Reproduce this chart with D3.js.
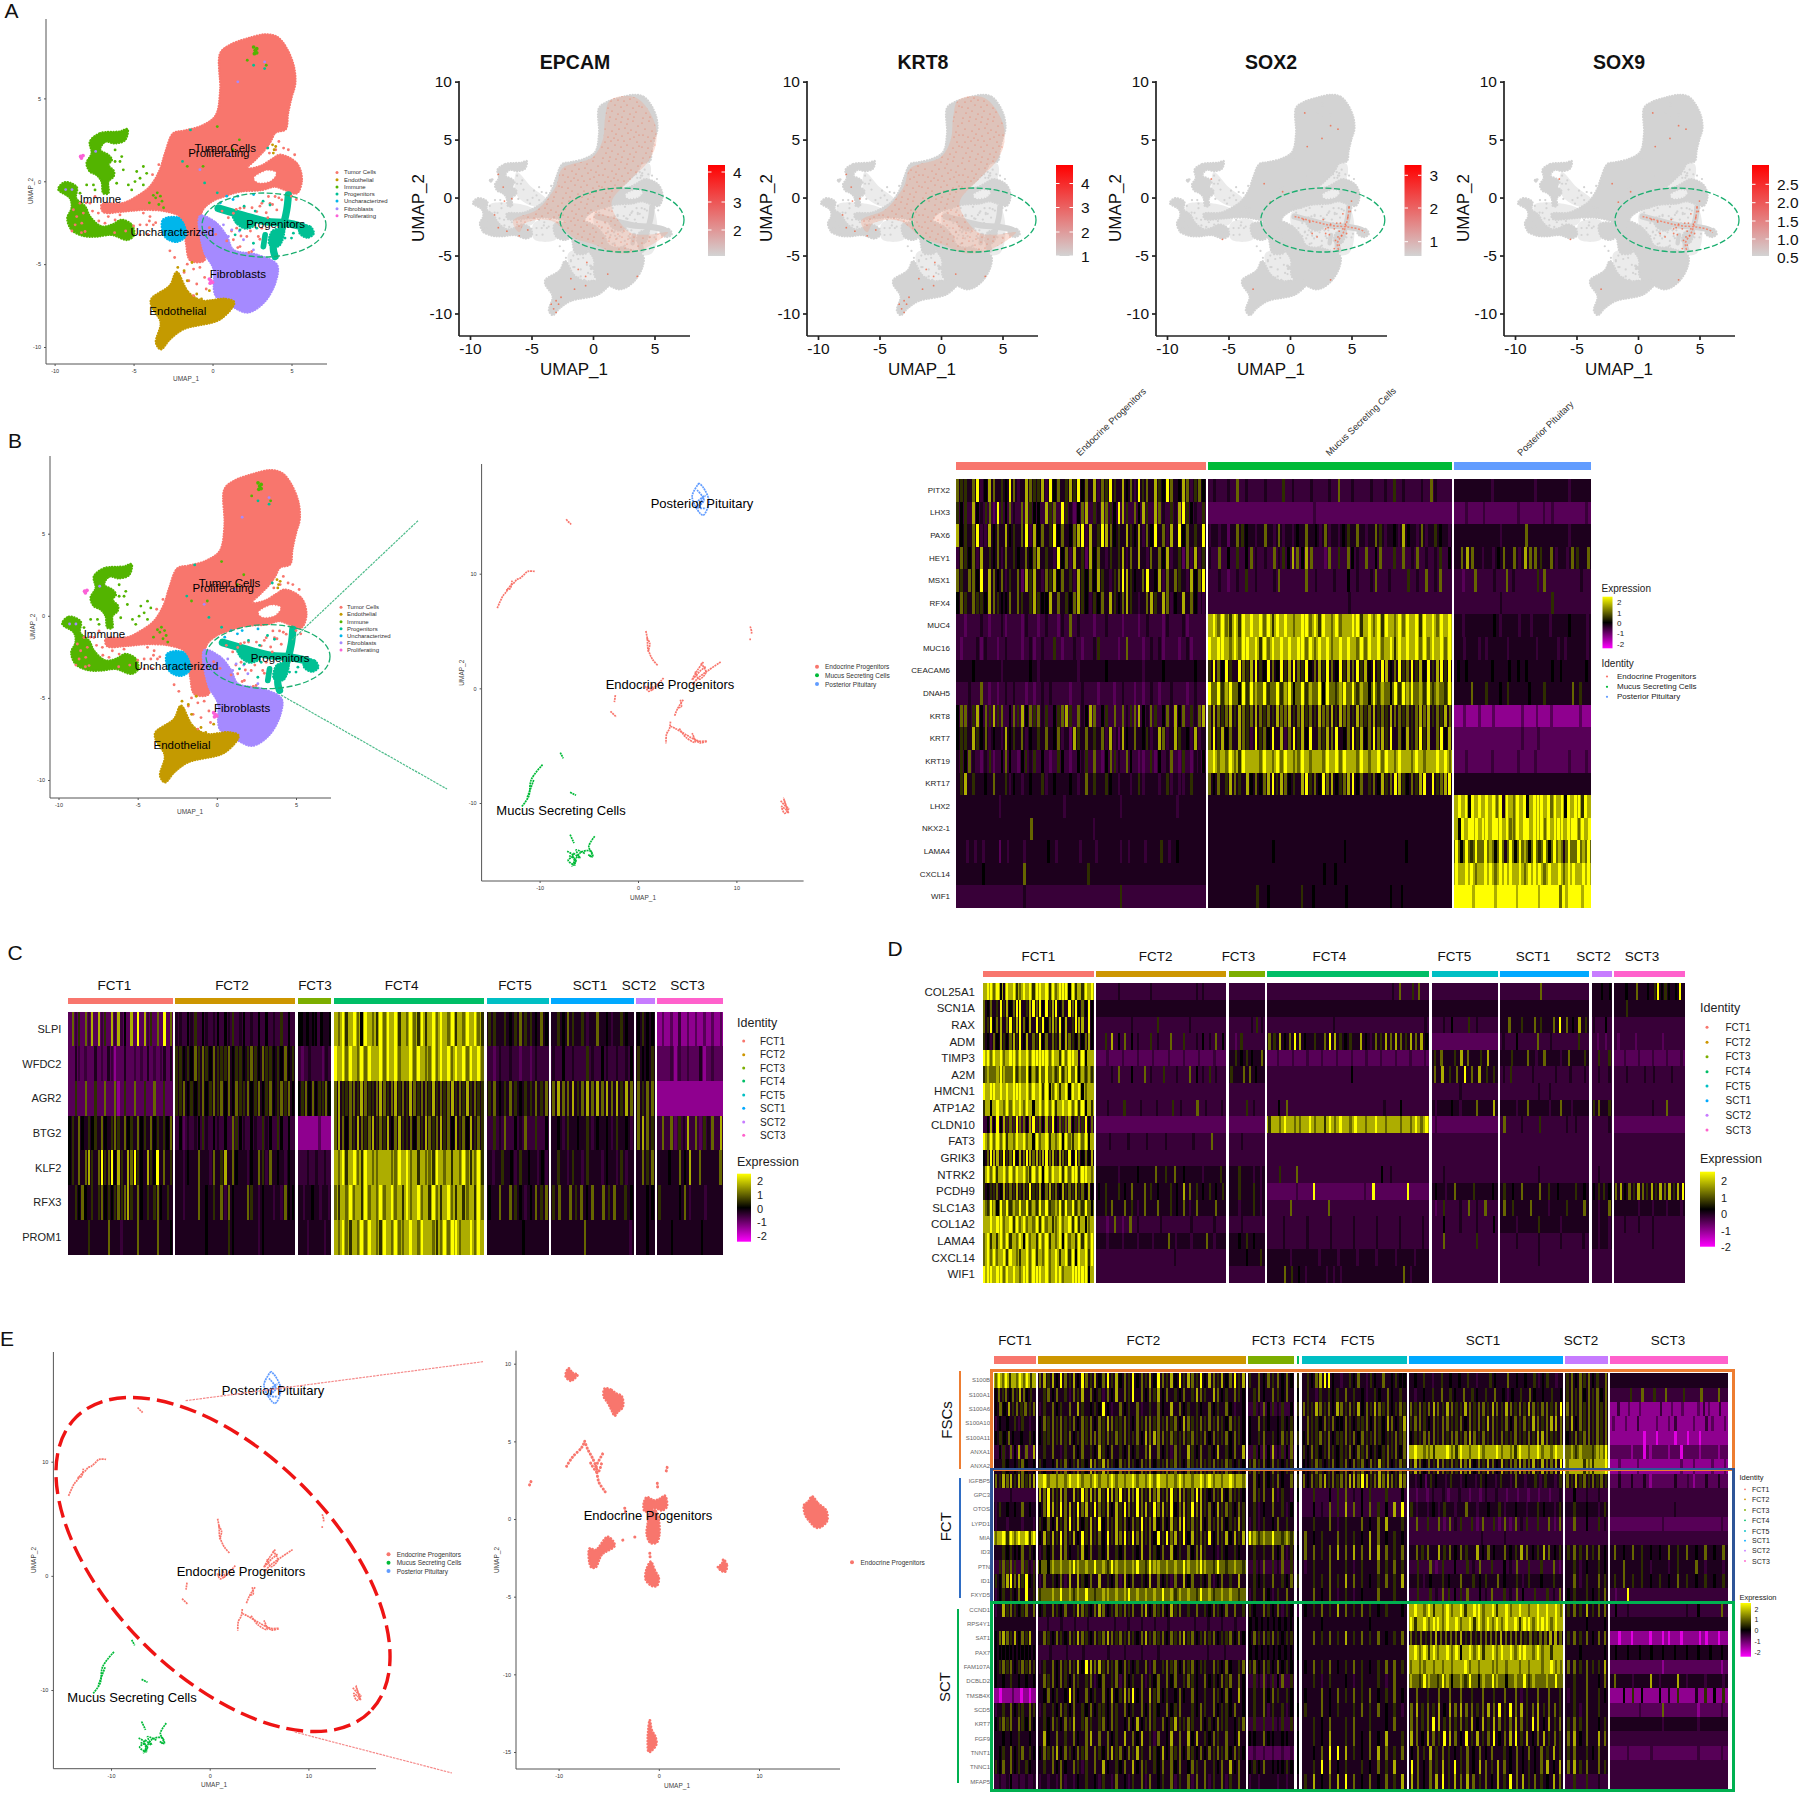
<!DOCTYPE html>
<html><head><meta charset="utf-8">
<script src="https://cdn.jsdelivr.net/npm/d3@7"></script>
<style>html,body{margin:0;background:#fff}svg{display:block}text{font-family:"Liberation Sans",Arial,sans-serif;fill:#111}</style>
</head><body><svg id="fig" width="1800" height="1793"></svg>
<script>
// ---------- UMAP outlines, in UMAP units ----------
const tumorOutline=[[3.4,8.86],[4.13,8.68],[4.7,8],[5.15,6.9],[5.23,5.88],[5,5.07],[4.77,4.06],[4.62,3.14],[3.98,2.94],[3.69,2.43],[3.3,1.9],[2.7,1.3],[2.17,.78],[3,.9],[3.8,1.35],[4.28,1.59],[5.33,1.08],[5.65,.08],[5.33,-.72],[4.59,-.52],[3.96,-.32],[3.12,-.52],[1.74,-.62],[.69,-.92],[-.05,-1.22],[-.68,-1.83],[-.67,-3.65],[-.52,-4.77],[-1.4,-4.77],[-1.69,-3.65],[-1.98,-2.2],[-2.9,-1.82],[-4.38,-1.72],[-5.65,-1.82],[-6.91,-1.85],[-7.02,-1.42],[-5.65,-1.32],[-4.8,-.92],[-3.96,-.32],[-3.33,.69],[-3,1.69],[-2.48,2.89],[-1.83,3.04],[-.67,3.35],[.2,3.96],[.49,5.48],[.49,7.71],[1.08,8.21],[2.24,8.62]];
const tumorHole=[[2.69,.18],[3.43,.58],[3.96,.48],[3.64,.08],[2.9,-.02]];
const immuneUpper=[[-7.76,2.39],[-7.12,2.89],[-5.86,3],[-5.39,3.14],[-5.54,2.49],[-6.17,2.29],[-6.8,2.39],[-7.12,1.89],[-6.6,1.59],[-6.38,1.29],[-6.6,.99],[-6.24,.59],[-6.28,.28],[-6.6,-.02],[-6.6,-.72],[-6.91,-.72],[-7.02,-.02],[-7.33,.38],[-7.76,.59],[-7.97,1.09],[-7.65,1.69]];
const immuneLower=[[-9.76,-.48],[-9.34,-.06],[-8.6,-.36],[-8.64,-1.02],[-8.07,-1.52],[-7.76,-2.13],[-7.02,-2.73],[-6.38,-2.63],[-5.75,-2.33],[-5.12,-2.63],[-4.97,-3.23],[-5.39,-3.53],[-6.38,-3.23],[-7.33,-3.33],[-8.18,-3.29],[-8.92,-2.93],[-9.19,-2.23],[-8.92,-1.62],[-9.02,-1.02]];
const uncharOutline=[[-3.14,-2.33],[-2.12,-2.23],[-1.69,-3.25],[-2.27,-3.65],[-3,-3.35]];
const fibroOutline=[[-.79,-2.1],[.2,-2.5],[.9,-3.33],[1.32,-4.14],[2.8,-4.44],[4.07,-5.04],[3.98,-6.09],[3.26,-7.3],[2.24,-7.91],[1.37,-7.61],[.2,-6.9],[.06,-5.27],[-.52,-4.26]];
const endoOutline=[[-2.27,-5.48],[-1.54,-6.69],[-.67,-7.2],[.78,-7.1],[1.37,-7.3],[.49,-8.32],[-1.83,-8.92],[-2.7,-9.53],[-3.28,-10.14],[-3.58,-9.74],[-3.28,-8.52],[-3.87,-7.5],[-3.87,-7.1],[-2.7,-6.29]];
const progMain=[[.37,-1.63],[2.17,-2.13],[3.43,-2.43],[4.7,-2.53],[5.86,-2.83],[6.07,-3.03]];
const progVert=[[4.8,-.82],[4.7,-1.73],[4.38,-2.93],[3.85,-3.94],[3.96,-4.54]];
const progBranch=[[3.33,-3.23],[3.22,-3.94]];
const progBlobs=[[[1.3,-2],[2.4,-2.1],[2.7,-2.6],[2.1,-2.85],[1.5,-2.5]],[[5.6,-2.7],[6.2,-2.75],[6.4,-3.15],[6,-3.4],[5.5,-3.1]],[[3.8,-3],[4.5,-2.9],[4.2,-3.9],[3.6,-3.8]]];
// scattered cells
const tumorDots=[[.6,-1.8],[1,-2.2],[1.5,-1.7],[2,-1.6],[2.5,-1.6],[3,-1.5],[3.4,-1.9],[3.8,-1.4],[4.2,-1],[1.2,-3],[1.8,-3.3],[2.4,-3],[3,-3.5],[.9,-3.6],[1.6,-4],[2.3,-4.3],[3.5,-2.2],[4.2,2.4],[4.5,2],[4,1.9],[3.6,1.7],[4.8,1.9],[5.2,1.6],[3.5,2.2],[2.8,1.8],[2.4,1.5],[1.32,-1.93],[1.74,-1.63],[3.12,-1.33],[3.64,-1.33],[4.07,-1.73],[2.8,-1.83],[4.38,-1.12],[3.96,-.92],[3.54,-.92],[1.53,-2.83],[2.17,-3.33],[2.9,-3.33],[3.12,-2.83],[1.32,-3.53],[1.74,-3.94],[2.48,-4.24],[-8,-1.3],[-7.6,-1.8],[-7.2,-2.4],[-8.6,-2.13],[-8.28,-2.53],[-8.81,-1.72],[-8.18,-1.92],[-8.7,-2.63],[-8.07,-3.03],[-7.23,-1.92],[-6.6,-2.13],[-6.17,-2.33],[-5.86,-2.03],[-6.81,-2.53],[-7.76,-1.32],[-7.44,-.92],[-8.39,-1.32],[-4.38,-1.92],[-3.96,-2.13],[-4.59,-2.63],[-4.17,-2.63],[-4.59,-3.23],[-3.75,-2.63],[-5,-2.7],[-4,-2.4],[-3.6,-2.5],[-4.1,-3.2],[-1.6,-5],[-1.2,-5.3],[-1.8,-5.5],[-.8,-5.2],[-1.5,-6],[-1,-6.2],[-.5,-5.8],[-.4,-6.5],[-1.2,-6.9],[-8.9,-3],[-8.3,-3.1],[-6.2,-3.1],[-5.5,-3],[-3.4,1],[-3.8,.4],[-.2,-2.8],[.2,-3.2],[5,-.9],[5.3,-1.1],[-2.7,-4.2],[-2.4,-4.6]];
const immuneDots=[[-6.17,1.89],[-5.75,1.49],[-5.86,1.19],[-6.17,1.19],[-5.65,.69],[-4.8,.59],[-4.38,.89],[-4.17,.48],[-4.59,.18],[-4.91,-.02],[-4.38,-.22],[-5.33,-.22],[-6.07,-.12],[-5.12,-.52],[-7.97,-.22],[-8.39,-.72],[-7.44,-.52],[-7.54,-.22],[-3.6,-1],[-3.4,-1.4],[-3.2,-1.2],[-3.1,-1.6],[-3.5,-.7],[-4,-1.3],[-3.75,-.85],[-3.3,-.9],[2.2,7.3],[3.4,7],[.3,3.3],[-1.6,.9],[-.6,.9],[1.7,2.5],[1.3,1.9]];
const immuneClump=[[2.6,8.1],[2.7,7.9],[2.8,8],[2.65,7.7],[2.8,7.75]];
const fibroDots=[[.69,-2.63],[1.22,-2.93],[1,-3.33],[1.96,-3.53],[2.59,-4.14],[1.7,-3],[3.3,7.2],[1.6,6],[1.1,1.6],[-.8,.7],[-7.4,1.8],[-9.3,-.5],[-8.9,-.5]];
const progDots=[[1.74,-2.93],[2.8,-2.83],[2.59,-3.74],[3.64,-1.43],[1.43,-3.23],[5.12,-3.13],[5,-3.43],[4.59,-3.43],[2.7,-1.8],[3.2,-1.2],[2,-1.5],[3.5,2],[3.3,6.8],[2.6,7],[-1.9,1.2],[-.5,-.1],[.3,-.7],[-1.4,3.1]];
const endoDots=[[-1.8,-5.4],[-1.6,-6],[-1,-6.8],[-.7,-7.1],[-.4,-7.5],[0,-7.2],[-.2,-6.6],[3.8,2.2],[3.9,1.9],[4,2.1],[3.85,1.7],[-2.2,-5.2],[-1.3,-4.9]];
const uncharDots=[[.9,-.9],[1.6,-.9],[1.3,-1.1],[.5,-1.3],[2.6,-.8]];
const magentaDots=[[-8.35,1.5],[-8.3,1.4],[-8.2,1.55],[-.2,-5.9],[-.1,-6],[-.15,-6.15],[0,-6.1]];
const umapLabels=["Tumor Cells","Proliferating","Immune","Uncharacterized","Progenitors","Fibroblasts","Endothelial"];
const umapLabelU=[.8,.4,-7.1,-2.55,4,1.6,-2.2];
const umapLabelV=[2,1.7,-1.1,-3.05,-2.57,-5.6,-7.85];
const umapLegendNames=["Tumor Cells","Endothelial","Immune","Progenitors","Uncharacterized","Fibroblasts","Proliferating"];
const umapLegendColors=["#F8766D","#C49A00","#53B400","#00C094","#00B6EB","#A58AFF","#FB61D7"];
// ---------- sub-clustered UMAP (panels B, E) ----------
const endoStreaks=[[[-7.3,14.75],[-7.1,14.55],[-6.9,14.4],[-6.8,14.3]],[[-14.3,7],[-14,7.6],[-13.7,8.1],[-13.4,8.4],[-13.2,8.7],[-12.9,9],[-12.6,9.2],[-12.3,9.5],[-12,9.6],[-11.6,9.9],[-11.2,10.2],[-10.5,10.2]],[[-13.4,8.6],[-13,8.7],[-12.8,9.4]],[[11.4,5.4],[11.55,4.9],[11.5,4.7]],[[11.4,4.35],[11.4,4.2]],[[.8,5],[.95,4.3],[1,3.5],[1.2,3],[1.5,2.5],[2,2]],[[.9,4.4],[1.2,3.9],[1,3.2]],[[8.4,2.3],[7.2,1.6],[6.1,.9],[5.5,.3]],[[6.65,2.3],[6.06,1.6],[5.5,.75],[6.3,1.5],[6.9,1.9]],[[6.4,2.2],[6.9,1.4],[6.2,.8],[5.8,1.5]],[[2.6,.9],[1.1,-.26],[.8,.17],[1.5,-.1],[1.3,.5]],[[4.6,-1],[4.2,-1.5],[3.9,-2],[3.7,-2.45]],[[4.3,-1],[4.4,-1.6],[4,-1.7]],[[3.3,-2.9],[3.2,-3.5],[2.9,-4],[2.85,-4.8]],[[3.3,-3.3],[3.8,-3.5],[4.6,-3.9],[5.4,-4.3],[6.2,-4.6],[7,-4.6],[6.3,-4.75],[5.6,-4.3]],[[4.2,-3.5],[4.9,-4.3],[5.8,-4.7],[5.5,-3.9]],[[-2.3,-.6],[-2.4,-1.2]],[[-2.8,-2],[-2.2,-2.5]],[[14.5,-9.8],[14.9,-10.2],[15.3,-10.5],[14.9,-10.9],[14.6,-10.3],[15.1,-10.6],[14.8,-9.6],[15.3,-10.9]]];
const mucusStreaks=[[[-7.9,-5.6],[-7.6,-6.1]],[[-9.7,-6.66],[-10.85,-7.97],[-11.1,-9.4],[-11.8,-10.3]],[[-10.6,-8],[-10.9,-8.7],[-11.3,-9.6]],[[-6.9,-9.07],[-6.3,-9.33]],[[-6.9,-12.76],[-6.5,-13.5]],[[-4.4,-12.9],[-5,-13.8],[-4.7,-14.4],[-4.9,-14.7]],[[-7.2,-14.2],[-6.6,-14.6],[-7.1,-15],[-6.4,-15.4],[-6.6,-14.4],[-5.9,-14.8],[-6.3,-14.1],[-5.4,-14.4]],[[-7,-14.6],[-6.3,-15],[-6.7,-15.5],[-5.8,-14.3],[-4.8,-14.2],[-4.6,-14.7],[-5.1,-14.5]]];
const pituitaryStreaks=[[[6.2,17.9],[5.5,16.7],[6.6,15.1],[7.2,16.3],[6.65,17.5],[6.2,17.9]],[[5.9,16.2],[6.8,16.8],[6.1,15.8],[6.9,15.7]],[[6,17.3],[6.7,16.4],[5.8,15.7]]];
const subClusterColors=["#F8766D","#00BA38","#619CFF"];
const subClusterNames=["Endocrine Progenitors","Mucus Secreting Cells","Posterior Pituitary"];
// ---------- Endocrine re-clustered UMAP (panel E right) ----------
const reclusterBlobs=[[[-9,9.7],[-8.6,9.4],[-8.1,9.3],[-8.5,9],[-8.8,8.9],[-9.3,9.2]],[[-5.4,8.4],[-4.7,8.3],[-4.3,8.1],[-3.7,7.9],[-3.6,7.2],[-4.1,6.9],[-4.4,6.65],[-4.7,7],[-5.1,7.5],[-5.5,7.9]],[[15.3,1.45],[15.9,1],[16.7,.55],[16.8,-.1],[16.2,-.5],[15.7,-.55],[15,-.1],[14.6,.3],[14.5,.9],[14.9,1.1]],[[6.45,-2.6],[6.8,-3],[6.6,-3.4],[6.2,-3.3],[5.9,-3.1],[6.3,-2.9]],[[-.9,-12.95],[-.7,-13.6],[-.35,-14],[-.25,-14.5],[-.7,-14.9],[-1,-15],[-1.1,-14.3],[-1.05,-13.6]],[[-.8,-2.75],[-.4,-3.3],[0,-3.8],[-.2,-4.3],[-.7,-4.3],[-1.3,-3.9],[-1.25,-3.3]],[[-1.2,1.4],[-.5,1.2],[.1,1.3],[.6,1.5],[.8,.8],[.3,.55],[-.3,.7],[-1.4,.5],[-1.5,1]],[[-.8,.6],[-.3,.5],[0,-.1],[.05,-1],[-.2,-1.5],[-.8,-1.55],[-1.2,-1],[-1.1,-.3]],[[-6.9,-1.9],[-6.3,-2],[-5.1,-1.15],[-4.4,-1.7],[-5.7,-2.3],[-6.3,-3.1],[-6.75,-3.1]]];
const reclusterStreaks=[[[-9.2,3.4],[-8.6,4],[-7.7,4.6],[-7.4,5]],[[-7.4,5],[-7.1,4.5],[-6.6,3.9],[-6.2,3.3]],[[-6.3,3.4],[-5.6,4.2]],[[-6.2,3.2],[-6,2.4],[-5.4,1.8],[-5.2,1.6]],[[-6.8,3.6],[-6.1,3],[-5.7,3.6]],[[-12.9,2.2],[-12.7,2.5]],[[.75,3.1],[.9,3.5]],[[-.15,2.3],[-.1,1.9]],[[-.9,-2.2],[-.85,-2.6]],[[-3.6,-1.36],[-3.3,-1.3]],[[-2.4,-1.15],[-2.1,-1.15]],[[-3.4,.7],[-3.3,.4]]];
// ---------- Feature plot data ----------
const featureGenes=["EPCAM","KRT8","SOX2","SOX9"];
const featureLegendTicks=[[4,3,2],[4,3,2,1],[3,2,1],[2.5,2,1.5,1,.5]];
const epcamRegion=[[1.4,8.4],[3.5,8.6],[5,6.5],[5.1,4.5],[4.4,3],[3,1.5],[1.5,-.5],[3,-3],[4.5,-3.2],[6.1,-3],[4,-4.5],[2,-4.8],[0,-4],[-1.5,-3.5],[-3.4,-2],[-5.5,-2.2],[-6,-3],[-6.5,-2],[-4.5,-1],[-3,1],[-2.5,2.5],[0,3.5],[.8,5],[1,7]];
const lightClouds=[[[.2,-1.2],[4.7,-.6],[4.8,-4.8],[1.2,-4.2],[.2,-2.8]],[[-2,-4.8],[0,-4.6],[0,-7.2],[-1.6,-6.6]],[[-8.4,-.6],[-4.8,-1],[-4.8,-2.2],[-7.2,-2.7],[-8.2,-2]],[[-6.2,2.2],[-5,.9],[-3.7,-.3],[-4.6,-.8],[-6.2,.2]],[[2.2,.8],[3.5,2.8],[4.6,2.9],[4.5,1.5]],[[-4.8,-2.2],[-3,-2],[-3,-3.6],[-4.8,-3.6]]];
const sparseSpeckles=[[-3.2,-9.6],[-3,-8.9],[-3.4,-9.2],[-2.6,-8.6],[-1.8,-7],[-1.2,-6.2],[-7.3,.9],[-6.6,-.1],[-7.7,2],[-8,-1.5],[-7.7,-2.6],[-5.3,-2.8],[-.5,-5.6],[1.2,-6.6],[3.6,-6.8],[-.6,-6.8],[-3,-9.9],[-2.8,-9.2],[-1.5,-7.9],[-.6,-7.6],[-7,-2.9],[-7.2,-.3],[-6,-3.3]];
const progenitorSpeckles=[[1.1,-1.9],[1.6,-2.1],[2.2,-3.4],[2.9,-2.7],[3.2,-3.2],[3.7,-3.7],[4,-4.1],[3.6,-4.4],[2.7,-1.9],[4.8,-.8],[5,-.3],[4.3,-1.4],[3.9,5.9],[1.2,7.3],[3.3,6.2],[2.6,5.1],[1.4,4.4],[-2.1,1.2],[-.6,.5],[-1.6,-.4],[3.3,-7.1],[-3,-7.9],[-5.5,-3.6],[-6.4,1.6],[1.8,-3.1],[3.8,-2.2],[4.1,-2.2],[3.6,-2.7],[4,-2.9],[4.3,-2.7],[4.5,-2.3],[3.3,-2.3],[2.9,-3.1],[3.1,-2.6],[4.6,-3.1],[4.2,-3.3],[3.9,-3.4],[4.9,-1.2],[4.7,-1.7]];
const speckleTile=[[2,3],[9,1],[15,5],[21,2],[27,4],[33,1],[38,6],[5,9],[12,11],[19,9],[25,8],[31,10],[36,12],[3,15],[8,17],[16,14],[22,16],[28,13],[34,17],[39,15],[11,21],[18,20],[5,22],[14,18],[24,21],[30,19],[37,22],[2,27],[8,28],[15,25],[21,27],[27,25],[33,28],[39,26],[6,33],[12,31],[18,34],[24,31],[30,34],[36,32],[3,38],[10,37],[16,39],[22,37],[28,39],[34,37]];
// ---------- heat-map data ----------
const exprLevels=[-2.2,-1.4,-.85,-.55,-.28,0,.45,1,1.7,2.5];
const clusterNames=["FCT1","FCT2","FCT3","FCT4","FCT5","SCT1","SCT2","SCT3"];
const clusterColors=["#F8766D","#CD9600","#7CAE00","#00BE67","#00BFC4","#00A9FF","#C77CFF","#FF61CC"];
const expressionTicks=[2,1,0,-1,-2];
const genesB=["PITX2","LHX3","PAX6","HEY1","MSX1","RFX4","MUC4","MUC16","CEACAM6","DNAH5","KRT8","KRT7","KRT19","KRT17","LHX2","NKX2-1","LAMA4","CXCL14","WIF1"];
const exprB=[
"76647935874659734876683957468695748376964857396748659745873675|34334373433343336343334333437334333433436343334374333|4444344443444344",
"65638546729657437865538673964257836487659863758638743648965436|222222222232222222222222|2323222322332223",
"85647933857485647938574695745789384698756486583759473849574649|34342476543474373435474537343564743476345385437346543|4444434474444344",
"37657384657374654757846439573846285743646837484374758346273836|43735363574343746587587332736375437357336373473434635|47874343574738776473437647",
"76477594875736472868437685746386575864367986547945837476438579|33432343634333473333373433343353433473343336343734733|3237334374333673333343",
"57647665876557476468655847465786536574865786434786487354847533|3333333333333343333333333|3333343333363333",
"33233343233423332433234332437343332334333233323433324333423333|8979769698989796989878997969879788996897969879798969897989|4344445344343443445443",
"32333424332343332342343363233432334633332373332343423332342333|9899879799896979898989979798978989879798978969898979798979|4343344344434433443",
"44445444444344444454344444444434444445444444443444454444444544|6975964976896597596897695786975968796859698579679685968969|5544545554455445",
"33343373232343433232343433332334333233323433232343233433323433|9796897596987967968957968795976897968759687596989786968769|4474645644546444764",
"57746857686735768576746356786374587356373746785476357485736478|7876786876787676877867867687786877687678676877676787867687|1212121112121211121",
"56648657354385647354647457342864746473832854745634873486453834|7968574876396759483796859476879457968579786947586796847958|22222222323222222",
"46574324623575325646353236532354637325764375322362534732632445|8978797698887987979877987887989798879878979879887987889897|2322322323222323",
"46846445474463543454463454445434746446543443463444346343346444|7574687648575789687564896759785678957467586798657689496789|4444444444444444",
"4444434444444344444434444443444|4444444444444444444|8989598989897949879895899989798959899698",
"4444444474444443444444444444|4444444444444444444|8598999899899989779899899979899989997989",
"4333423434453443434433434635444|444444544444454444454444|9596979859495985969598497989",
"4445444474444444644444444444444|4444444444554444444444|9899789979998979997989799899",
"3333333343333333333363333333333|4444654465445444554444|9998999899989998999789989"];
const genesC=["SLPI","WFDC2","AGR2","BTG2","KLF2","RFX3","PROM1"];
const exprC=[
"27362738283628383528292836272927|44354635434535463453435353436353|554545535445|8796897598769798968797696897987968798976|664656766575|46576463474534654|5655|1212131212121212",
"22432322423243122422323242323424|66565767657666756656765766565756|3234333243|9897987979889798978897987797989798979897|324343232433|43534336435434345|6556|2223132322412322",
"22622722622722712622722622722622|66756567567675757667567567567675|5675756675|7866776876678767867687677686767867686766|675676566767|78778678787878687|7677|1111111111111111",
"56475465647546764756475647564657|35243456435435376543543645365353|1111112111|7875768767867685786675768767867586758676|364735473635|45364546354536453|7876|3737264837264738",
"56474786479679586487965486594746|44354474437468475443547637454354|33434343|8796897698778887798978687769878687976796|43464536454353|46436436443543634|4767|4454758474447",
"44657546467565676786475464675464|44344474546473754447643544343755|43454343|7687978697879789786978978697689768678697|547476535767|674767574767465|4455|6444573443444",
"44444464444474443444474444474445|44444444544444654444443544444444|44344434|8797687979876987977898798876797997889798|44444454444|44447444443|4454|44544445444"];
const genesD=["COL25A1","SCN1A","RAX","ADM","TIMP3","A2M","HMCN1","ATP1A2","CLDN10","FAT3","GRIK3","NTRK2","PCDH9","SLC1A3","COL1A2","LAMA4","CXCL14","WIF1"];
const exprD=[
"8997954989679896998969799959686989|33343333433333344333|3333|3333333333333333333473673|33333333|33333373333333|44545|44454474454695654594",
"7574696857994689795968957497957595|44444444444444|44444|444444444444444444|44444444|44444444|44444|44644444444444",
"7695784796897584969578795846988495|33333433363333433333|3333464|33333333343333333333334|34536433|47464764797586|43353|333333333",
"6537586578695847695747685876575785|36857543643736345475|3263333|76857985464798656485376878768785|22222222|4353373433363|32323|23233233",
"9979897899798979999979869799849588|23232323232323232|4656547|2323232323232323232323|6746874684|46473743746|3636|2323232323",
"6877898779687958697978696897958686|33473537436343754643|647754|33333333335333333333|786797866|463343343434|3434|34344343",
"9899898989998979896957968959895788|33333333333333|333|33333333333333333|33343333|33344333|3333|3333333333",
"6858987979897985897979689897969586|3436343436437434|33643|35733333333333435333|34534748|43743734|6746|3333343733",
"3585958676977589675869576785676957|22222222222222222|22222|68798778978697987987898788787979|32222222|7343633443|3334|2222222222",
"9797979687989785978968795976897958|34343434334373|3433|33333333333333|33333333|33333333|3333|3333333333",
"5798869679587987878978687695975758|33333333333333|3333|33333333333333|33333333|33333333|3333|3333333333",
"6979689797989769795979896979969987|44345476754346|46433|3637333333333543333|34333333|33343333|3433|3333333333",
"6566758676867696685786758676867585|56465747654658765656|46463|2223292222239222922|5374645|6574765465|5665|7857687686878689",
"8698597968797968697967896979686975|46747637474657374474|43463|33733373333333333|26347473|7647434647|4347|4443434343",
"8898997896979787969786797896968578|32727433433343343|3433|34343434343434|35343435|43464344|4343|3434343333",
"7968697968795978697968795978696979|43434343473434734|45654|34343434343434|37333633|34343434|4343|3333343333",
"7979789698768979687978968969598969|33333333433333|44546|44344343434343434|33333333|33343333|3333|3333333333",
"9998997989879979998978997889999958|33333333333333|3333|44765344333444444447344|33333333|33333333|3333|3333333333"];
const genesE=["S100B","S100A1","S100A6","S100A10","S100A11","ANXA1","ANXA2","IGFBP5","GPC3","OTOS","LYPD1","MIA","ID3","PTN","ID1","FXYD5","CCND1","RPS4Y1","SAT1","PAX7","FAM107A","DCBLD2","TMSB4X","SCD5","KRT7","FGF9","TNNT1","TNNC1","MFAP5"];
const exprE=[
"797968797968|7868597685976857968576957685976859687695876857968|6475767575|6|4657899543465743654745655|45464346454546434465447454546356434|6757675647|44444444444444444444",
"576757687564|4675746376847563758476947576857465746876487564765|4675476574|5|4643646564746453465475464|43454647465474654647453546475454645|6767576757|33363736373363373373",
"5758676767|3647564748645659534756473464754847564654756475345|3647564635|6|7668767587676857687675676|7676787687668767768768767687677679|7767676767|1312121113121211232131",
"35454636434|5767676675767576876676576776767675876676767657665|5476545656|5|4766576755765667576587568|6776576776675767687667576768767887|6857676767|2121311212311213212",
"5657545465|5667676756767776767676675878776766767667576675765|5467465767|6|5766767566767576676566767|5667776767767876767676676676887667|5676776767|1111101011010101111",
"35647584738|4647436475746586574657564784756376486574658465748|3657584657|5|6576567656675767565676757|8987768897698789788978769878978798|7868776889|2221201221202212212",
"44654567545|6545767567658768765767657675667676576676676676565|6767576566|5|5567656756757675768675676|6875768767687857687586778778687789|7888676889|1211211111121211212",
"76878687678|8978787989787978797878978797987879787897978789787|4757567547|6|7576786767788798678787687|4352654364354365436437434636436|7686767676|2424241222423124242",
"33334333333|8797687486978786987968797687867968767986576857665|4767483643|5|3635674563635|32324342343232434323232323234|3534343|3333333333",
"36454547454|5798697869786976858697697869786957869786758676576|4635474635|3|3547687576589|6343536434743454634543465436|4645436|3333343333",
"34434443443|6575867968568695768675769678575868967685767756686|3636457464|3|4647364757846|3736372746362736272746363727|3735364|2222322223",
"78969798969|5868697685968675968796978675969786958676957685868|9868797686|4|7564766587565|33333333343343333333|3333333|3333333333",
"44656557465|3657487546857465846574658476574856475786453654654|4646475736|5|7767878788767|4767486757648575475687568756|6767675|7576557675757",
"36767637646|5758787898787978698787897698878787987898769767876|3647364736|4|3647463647676|3637263536473635473636372|4635465|4746343647343",
"65789786956|3746573848657484657385746584756374857465735746484|4656474657|6|4667687656768|4635465474656475463645464|4736476|6766565765656",
"35646574946|6778797868797678878789787878797868787697867878767|3647536474|4|4757363547464|3636476567354736475363647|5646567|2933333333",
"34867656747|5647657468765787567676747857675867464746576574746|6547657365|3|5676876765645|8987968797896899789689789878989897|6768677|5433334537",
"44444444444|3434343433343434343433343434343|55555555|5|4454444454444|9689799798978969797979896997999798|4445445|4444444444",
"57876857684|4765765768765767876767657867675767867567675667575|5767676566|5|4767686767567|7676787777867677778777767677887|6767577|1010110100101100101",
"55555555555|3434343343434343333343433|55555555|5|4444444444444|8979697897958979689798979987978688|4454445|5555555555",
"56767567676|3647576768598786767576564737467675767566476575467|6757657565|4|5767567656776|7877878787889787887787887878878977|7767668|2222122221",
"54546454545|4767576576467357467375647365747574676547565767475|3647465736|4|4636453646374|8769876985786975879875787968778797|4647457|7434834834343",
"1011210101|4575645975475647585687957486756457547546476575485|4647576465|4|5475767675675|4746474747464746474736474746|3647465|1565154614656",
"34647566476|3646576574657566576475647576547567446576475665745|4647364635|5|6475646767563|7867685878776787969786786776|4637464|2232722123",
"56767476575|4657657684676467576457585676475686676475657664567|3636364636|4|4657467464574|7767986767685868767876985867|6767456|4444344344",
"44545464454|4854746475478474756484758463745847485846576474584|5547554554|5|4658467575846|8758769875968679578968578676|7857487|3333333333",
"45647567465|5767857657674765786757686476585767576575767675765|2323232323|5|4579986578767|5768676567575746575757686|6746574|2323222323",
"65747564654|4647575476364748546574857646574757457647465748574|5657455565|5|4698564657684|9757686967587687575657858|7867476|3333333333",
"34345343434|3434373435464536437453647374564736473747364736474|3434443434|4|6857897575768|8757896878767586978676587|3636343|3333333333"];
// ---------- helpers ----------
const svg=d3.select("#fig");
const exprColor=d3.scaleLinear().domain([-2.5,0,2.5]).range(["#ff00ff","#000000","#ffff00"]);
const defs=svg.append("defs");
const txt=(g,x,y,s,size,o={})=>g.append("text").attr("x",x).attr("y",y).attr("font-size",size).attr("text-anchor",o.anchor||"start").attr("dominant-baseline","central").attr("font-weight",o.weight||null).attr("transform",o.rot!=null?`rotate(${o.rot} ${x} ${y})`:null).style("fill",o.fill||"#111").text(s);
const closed=(x,y)=>d3.line().x(d=>x(d[0])).y(d=>y(d[1])).curve(d3.curveCatmullRomClosed.alpha(.5));
const open=(x,y)=>d3.line().x(d=>x(d[0])).y(d=>y(d[1])).curve(d3.curveCatmullRom.alpha(.5));
function scales(c){return {x:d3.scaleLinear().domain(c.xd).range(c.xr),y:d3.scaleLinear().domain(c.yd).range(c.yr)};}
function axes(g,c,s){
 const col=c.axisColor||"#555",w=c.axisWidth||1;
 const ax=d3.axisBottom(s.x).tickValues(c.xt).tickSize(c.tick||2).tickFormat(String);
 const ay=d3.axisLeft(s.y).tickValues(c.yt).tickSize(c.tick||2).tickFormat(String);
 const gx=g.append("g").attr("transform",`translate(0,${c.y0})`).call(ax);
 const gy=g.append("g").attr("transform",`translate(${c.x0},0)`).call(ay);
 [gx,gy].forEach(a=>{a.selectAll("path").remove();a.selectAll("line").attr("stroke",col).attr("stroke-width",w);
  a.selectAll("text").attr("font-size",c.tickFont).style("fill",c.tickFill||"#333").style("font-family","'Liberation Sans',Arial,sans-serif");});
 g.append("line").attr("x1",c.x0).attr("x2",c.x1).attr("y1",c.y0).attr("y2",c.y0).attr("stroke",col).attr("stroke-width",w);
 g.append("line").attr("x1",c.x0).attr("x2",c.x0).attr("y1",c.y1).attr("y2",c.y0).attr("stroke",col).attr("stroke-width",w);
 txt(g,c.lx[0],c.lx[1],"UMAP_1",c.labelFont,{anchor:"middle",fill:c.tickFill||"#444"});
 txt(g,c.ly[0],c.ly[1],"UMAP_2",c.labelFont,{anchor:"middle",rot:-90,fill:c.tickFill||"#444"});
}
function baseCells(g,s,override){
 const c=i=>override||umapLegendColors[i],cl=closed(s.x,s.y),op=open(s.x,s.y);
 const unit=(s.x(1)-s.x(0)),fuzz=override?2.4:2.6;
 const poly=(d,col)=>{g.append("path").attr("d",cl(d)).attr("fill",col);
  g.append("path").attr("d",cl(d)).attr("fill","none").attr("stroke",col).attr("stroke-width",fuzz).attr("stroke-linecap","round").attr("stroke-dasharray","0.1 2.6");};
 if(override)lightClouds.forEach(d=>g.append("path").attr("d",cl(d)).attr("fill","#ebebeb"));
 poly(tumorOutline,c(0));poly(fibroOutline,c(5));poly(endoOutline,c(1));poly(immuneUpper,c(2));poly(immuneLower,c(2));
 [[progMain,.5],[progVert,.46],[progBranch,.36]].forEach(([d,w])=>g.append("path").attr("d",op(d)).attr("fill","none").attr("stroke",c(3)).attr("stroke-width",w*unit).attr("stroke-linecap","round"));
 progBlobs.forEach(d=>poly(d,c(3)));
 poly(uncharOutline,c(4));
 poly(tumorHole,override?"#eee":"#fff");
 const dots=(d,col,r)=>g.selectAll(null).data(d).join("circle").attr("cx",p=>s.x(p[0])).attr("cy",p=>s.y(p[1])).attr("r",r).attr("fill",col);
 const r=unit*.09;
 dots(tumorDots,c(0),r);dots(immuneDots,c(2),r);dots(immuneClump,c(2),r*1.3);dots(fibroDots,c(5),r);dots(progDots,c(3),r);dots(endoDots,c(1),r);dots(uncharDots,c(4),r);
 dots(magentaDots,override||umapLegendColors[6],r*1.3);
}
function legend(g,x,tx,ys,names,colors,r,font){
 names.forEach((n,i)=>{g.append("circle").attr("cx",x).attr("cy",ys[i]).attr("r",r).attr("fill",colors[i]);txt(g,tx,ys[i],n,font,{fill:"#333"});});
}
function ellipse(g,cx,cy,rx,ry){g.append("ellipse").attr("cx",cx).attr("cy",cy).attr("rx",rx).attr("ry",ry).attr("fill","none").attr("stroke","#1AAE6F").attr("stroke-width",1.3).attr("stroke-dasharray","6 2.5");}
function umapMain(c){
 const g=svg.append("g"),s=scales(c);
 baseCells(g,s);axes(g,c,s);
 umapLabels.forEach((t,i)=>txt(g,s.x(umapLabelU[i]),s.y(umapLabelV[i]),t,11.5,{anchor:"middle",fill:"#000"}));
 legend(g,c.lgx,c.lgt,c.lgy,umapLegendNames,umapLegendColors,1.5,6);
 ellipse(g,c.e[0],c.e[1],62,32);
}
function subUmap(c){
 const g=svg.append("g"),s=scales(c),op=open(s.x,s.y);
 [endoStreaks,mucusStreaks,pituitaryStreaks].forEach((set,i)=>set.forEach(d=>g.append("path").attr("d",op(d)).attr("fill","none").attr("stroke",subClusterColors[i]).attr("stroke-width",1.7).attr("stroke-dasharray","2 .7")));
 axes(g,c,s);
 c.labels.forEach(l=>txt(g,l[1],l[2],l[0],13,{anchor:"middle",fill:"#000"}));
 legend(g,c.lgx,c.lgt,c.lgy,subClusterNames,subClusterColors,2,6.5);
 return g;
}
const pat=defs.append("pattern").attr("id","speck").attr("patternUnits","userSpaceOnUse").attr("width",40).attr("height",40);
speckleTile.forEach(p=>pat.append("circle").attr("cx",p[0]).attr("cy",p[1]).attr("r",.62).attr("fill","#F0603E").attr("opacity",.8));
function featureBar(g,x0,x1,y0,y1,ys,ticks,id){
 const gr=defs.append("linearGradient").attr("id",id).attr("x1",0).attr("x2",0).attr("y1",1).attr("y2",0);
 gr.append("stop").attr("offset",0).attr("stop-color","#d3d3d3");gr.append("stop").attr("offset",1).attr("stop-color","#ff0000");
 g.append("rect").attr("x",x0).attr("y",y0).attr("width",x1-x0).attr("height",y1-y0).attr("fill",`url(#${id})`);
 ticks.forEach((t,i)=>{[x0,x1-3.5].forEach(x=>g.append("line").attr("x1",x).attr("x2",x+3.5).attr("y1",ys[i]).attr("y2",ys[i]).attr("stroke","#fff").attr("stroke-width",1));
  txt(g,x1+8,ys[i],d3.format(Number.isInteger(ticks[0])?"d":".1f")(t),15.5,{fill:"#111"});});
}
const featureAxisX=[459,807,1156,1504];
const featureEllipseX=[622,974,1322.8,1677];
const featureBarX=[708,1056,1404.5,1752];
const featureBarTickY=[[172,202,230],[183.5,207.5,232,256],[175.3,208,241.7],[184.3,202.7,221,239,257.7]];
const featureTitleX=[575,923,1271,1619];
featureGenes.forEach((gene,i)=>{
 const off=featureAxisX[i]-459,g=svg.append("g");
 const c={xd:[-10,5],xr:[470+off,654.5+off],yd:[10,-10],yr:[81.6,313.5],x0:459+off,x1:690+off,y0:336,y1:81,xt:[-10,-5,0,5],yt:[10,5,0,-5,-10],tick:4,tickFont:15.5,axisColor:"#222",axisWidth:1.7,tickFill:"#111",labelFont:17,lx:[574+off,369],ly:[418+off,208]};
 const s=scales(c);
 baseCells(g,s,"#d3d3d3");
 const cl=closed(s.x,s.y),op=open(s.x,s.y);
 const speck=d=>g.selectAll(null).data(d).join("circle").attr("cx",p=>s.x(p[0])).attr("cy",p=>s.y(p[1])).attr("r",.9).attr("fill","#F0603E").attr("opacity",.75);
 if(i<2){
  g.append("path").attr("d",cl(epcamRegion)).attr("fill","#F0A890").attr("opacity",i==0?.34:.38);
  g.append("path").attr("d",cl(epcamRegion)).attr("fill","url(#speck)");
  speck(sparseSpeckles);
 } else {
  [progMain,progVert].forEach(d=>g.append("path").attr("d",op(d)).attr("fill","none").attr("stroke","#F08A74").attr("stroke-width",1.5).attr("stroke-dasharray","2 1.6"));
  speck(progenitorSpeckles);
 }
 axes(g,c,s);
 txt(g,featureTitleX[i],62,gene,19.5,{anchor:"middle",weight:"bold",fill:"#111"});
 ellipse(g,featureEllipseX[i],220,62,32);
 featureBar(g,featureBarX[i],featureBarX[i]+17,165,256,featureBarTickY[i],featureLegendTicks[i],"fb"+i);
});
umapMain({xd:[-10,5],xr:[54.6,291.5],yd:[5,-10],yr:[98.4,347],x0:46,x1:327,y0:364,y1:19,xt:[-10,-5,0,5],yt:[5,0,-5,-10],tickFont:5.5,labelFont:6.5,lx:[186,378],ly:[30,191],lgx:337,lgt:344,lgy:[172.4,179.8,187,194,201,208.7,215.7],e:[264,225]});
umapMain({xd:[-10,5],xr:[58.5,296],yd:[5,-10],yr:[533.7,780],x0:50,x1:331,y0:798,y1:456,xt:[-10,-5,0,5],yt:[5,0,-5,-10],tickFont:5.5,labelFont:6.5,lx:[190,811],ly:[33,626.7],lgx:341,lgt:347,lgy:[607.3,614.3,621.7,628.7,635.7,642.7,650],e:[268,656.6]});
subUmap({xd:[-10,10],xr:[539.6,736.4],yd:[10,-10],yr:[573.7,803],x0:481.6,x1:803.6,y0:881,y1:464,xt:[-10,0,10],yt:[10,0,-10],tickFont:5.5,labelFont:6.5,lx:[643,897.7],ly:[462,672.7],lgx:817,lgt:825,lgy:[666.7,675.3,684],labels:[["Posterior Pituitary",702,503],["Endocrine Progenitors",670,684],["Mucus Secreting Cells",561,810]]});
const e1=subUmap({xd:[-10,10],xr:[111,308.4],yd:[10,-10],yr:[1461.7,1690],x0:53.4,x1:376,y0:1768.7,y1:1352,xt:[-10,0,10],yt:[10,0,-10],tickFont:5.5,labelFont:6.5,lx:[214,1784.7],ly:[33,1560],lgx:388.5,lgt:396.7,lgy:[1554.3,1562.7,1571],labels:[["Posterior Pituitary",273,1390],["Endocrine Progenitors",241,1571.7],["Mucus Secreting Cells",132,1697.7]]});
e1.append("ellipse").attr("cx",223).attr("cy",1564.5).attr("rx",208).attr("ry",112).attr("transform","rotate(45 223 1564.5)").attr("fill","none").attr("stroke","#EE1414").attr("stroke-width",3.4).attr("stroke-dasharray","17 7");
[[418,520.7,292,640,"#4DBB8A"],[281,695,447,789,"#4DBB8A"],[185.6,1400.7,483,1361.7,"#F58A8A"],[294.7,1732,452,1773,"#F58A8A"]].forEach(l=>svg.append("line").attr("x1",l[0]).attr("y1",l[1]).attr("x2",l[2]).attr("y2",l[3]).attr("stroke",l[4]).attr("stroke-width",1.2).attr("stroke-dasharray","2.5 1"));
(function(){
 const c={xd:[-10,10],xr:[558.6,759],yd:[10,-15],yr:[1363.7,1752],x0:516,x1:840,y0:1769,y1:1350.7,xt:[-10,0,10],yt:[10,5,0,-5,-10,-15],tickFont:5.5,labelFont:6.5,lx:[677,1785],ly:[496,1560]};
 const g=svg.append("g"),s=scales(c),cl=closed(s.x,s.y),op=open(s.x,s.y);
 reclusterBlobs.forEach(d=>{g.append("path").attr("d",cl(d)).attr("fill","#F8766D");g.append("path").attr("d",cl(d)).attr("fill","none").attr("stroke","#F8766D").attr("stroke-width",2.8).attr("stroke-linecap","round").attr("stroke-dasharray","0.1 3");});
 reclusterStreaks.forEach(d=>g.append("path").attr("d",op(d)).attr("fill","none").attr("stroke","#F8766D").attr("stroke-width",3).attr("stroke-linecap","round").attr("stroke-dasharray","0.1 3.4"));
 axes(g,c,s);
 txt(g,648,1515,"Endocrine Progenitors",13,{anchor:"middle",fill:"#000"});
 legend(g,852,860.5,[1562.3],["Endocrine Progenitors"],["#F8766D"],2,6.5);
})();
// heat-maps: each digit is one band. Every row/cluster segment gets a backdrop (its dominant level);
// digits that differ are drawn over it as thin stripes.
const stripeFrac={0:1,1:1,2:1,3:1,4:1,5:1,6:.65,7:.65,8:.7,9:.8};
function heatmap(c){
 const g=svg.append("g").attr("shape-rendering","crispEdges");
 const y=d3.scaleBand().domain(c.genes).range([c.y0,c.y1]);
 const cap=c.cap||3.2;
 c.rows.forEach((row,ri)=>{
  const top=y(c.genes[ri]),h=y.bandwidth();
  row.split("|").forEach((seg,si)=>{
   const x=d3.scaleBand().domain(d3.range(seg.length)).range(c.segs[si]),b=x.bandwidth();
   const ds=seg.split("").map(Number),mean=d3.mean(ds);
   const lows=d3.rollups(ds.filter(d=>d<=4),v=>v.length,d=>d).sort((p,q)=>q[1]-p[1]);
   const back=mean>=7.3?Math.round(mean):(lows.length?lows[0][0]:4);
   g.append("rect").attr("x",c.segs[si][0]).attr("width",c.segs[si][1]-c.segs[si][0]).attr("y",top).attr("height",h+.4).attr("fill",exprColor(exprLevels[back]));
   const items=ds.map((d,i)=>({d,i})).filter(o=>o.d!==back);
   g.selectAll(null).data(items).join("rect")
    .attr("width",o=>Math.max(1,Math.min(b*stripeFrac[o.d],cap)))
    .attr("x",function(o){return x(o.i)+(b-(+this.getAttribute("width")))/2;})
    .attr("y",top).attr("height",h+.4).attr("fill",o=>exprColor(exprLevels[o.d]));
  });
  txt(g,c.geneX,top+h/2,c.genes[ri],c.geneFont,{anchor:"end",fill:c.geneFill||"#222"});
 });
 c.segs.forEach((s,i)=>g.append("rect").attr("x",s[0]).attr("width",s[1]-s[0]).attr("y",c.barY[0]).attr("height",c.barY[1]-c.barY[0]).attr("fill",c.colors[i]));
 if(c.heads)c.names.forEach((n,i)=>txt(g,c.heads[i],c.headY,n,c.headFont||13.5,{anchor:"middle",fill:"#111"}));
 return g;
}
function exprLegend(id,x,titleY,bar,ticks,tickX,font,tFont,identityTitle,dotX,textX,dotY,names,colors,r){
 const g=svg.append("g");
 const gr=defs.append("linearGradient").attr("id",id).attr("x1",0).attr("x2",0).attr("y1",0).attr("y2",1);
 d3.range(0,11).forEach(i=>gr.append("stop").attr("offset",i/10).attr("stop-color",exprColor(2.5-i/2)));
 txt(g,x,titleY,"Expression",tFont,{fill:"#222"});
 g.append("rect").attr("x",bar[0]).attr("y",bar[2]).attr("width",bar[1]-bar[0]).attr("height",bar[3]-bar[2]).attr("fill",`url(#${id})`);
 expressionTicks.forEach((t,i)=>txt(g,tickX,ticks[i],t,font,{fill:"#222"}));
 txt(g,x,identityTitle,"Identity",tFont,{fill:"#222"});
 names.forEach((n,i)=>{g.append("circle").attr("cx",dotX).attr("cy",dotY[i]).attr("r",r).attr("fill",colors[i]);txt(g,textX,dotY[i],n,font<9?font:font-1,{fill:"#222"});});
}
const hb=heatmap({genes:genesB,rows:exprB,y0:479,y1:908,segs:[[955.6,1205.6],[1207.6,1452],[1454,1591]],barY:[461.9,470.1],colors:subClusterColors,geneX:950,geneFont:8,cap:2.8});
[[1080,"Endocrine Progenitors"],[1329.5,"Mucus Secreting Cells"],[1521,"Posterior Pituitary"]].forEach(d=>txt(hb,d[0],456.4,d[1],9.4,{rot:-44,fill:"#333"}).attr("dominant-baseline","auto"));
exprLegend("exB",1601.5,588.5,[1602.5,1612.5,596.7,648.3],[602.6,613.2,623.6,633.9,644.2],1617,8,10,663,1607,1617,[676.5,686.8,696.8],subClusterNames,subClusterColors,1.1);
heatmap({genes:genesC,rows:exprC,y0:1011.7,y1:1254.3,segs:[[67.7,172.5],[174.7,294.8],[297.5,331.3],[333.5,484.3],[487,549],[551,634],[636,654.8],[657,723]],barY:[998.3,1004],colors:clusterColors,names:clusterNames,heads:[114.3,232,315,401.7,515,590,639,687.6],headY:985,geneX:61.4,geneFont:11,cap:2.6});
exprLegend("exC",737,1162,[737,751,1173.7,1241.7],[1181,1195.3,1208.7,1222.3,1236.3],757,11,12.5,1023,743.7,760,[1041,1054.7,1068,1081,1095,1108.3,1122,1135.3],clusterNames,clusterColors,1.5);
heatmap({genes:genesD,rows:exprD,y0:983.3,y1:1282.7,segs:[[982.7,1094],[1096,1226],[1228.5,1265],[1267,1429],[1431.5,1498],[1500,1589],[1591.7,1612],[1614,1685]],barY:[971,976.7],colors:clusterColors,names:clusterNames,heads:[1038.4,1155.7,1238.5,1329.4,1454.4,1533,1593.4,1642],headY:956.7,geneX:975,geneFont:11.5,cap:2.2});
exprLegend("exD",1700,1159.3,[1700,1715,1171.7,1246.7],[1181,1197.7,1214,1230.7,1246.7],1721,11,12.5,1008,1707,1725.5,[1027.3,1042.3,1056.7,1071.7,1086,1100.7,1115.3,1130],clusterNames,clusterColors,1.5);
const he=heatmap({genes:genesE,rows:exprE,y0:1373.2,y1:1788.8,segs:[[994,1036],[1038,1245.5],[1247.7,1294],[1296.6,1299.4],[1301.6,1406.6],[1408.8,1563],[1565.4,1608],[1610.3,1728]],barY:[1356,1364.3],colors:clusterColors,names:clusterNames,heads:[1015,1143.4,1268.5,1309.5,1357.7,1483,1581,1668],headY:1340.7,geneX:990,geneFont:6,geneFill:"#666",cap:2.4});
[[1370.7,1469.3,"#ED7D31"],[1469,1602.7,"#2F5597"],[1602.7,1790.5,"#00B050"]].forEach(b=>he.append("rect").attr("x",991.3).attr("y",b[0]).attr("width",742.4).attr("height",b[1]-b[0]).attr("fill","none").attr("stroke",b[2]).attr("stroke-width",2.6));
[[960.4,1371,1469,"#ED7D31"],[960,1477.7,1597.7,"#2F6DC4"],[958,1609,1783,"#00B050"]].forEach(l=>he.append("line").attr("x1",l[0]).attr("x2",l[0]).attr("y1",l[1]).attr("y2",l[2]).attr("stroke",l[3]).attr("stroke-width",2));
[["FSCs",946,1420],["FCT",946,1526.7],["SCT",944,1687]].forEach(d=>txt(he,d[1],d[2],d[0],15,{anchor:"middle",rot:-90,fill:"#111"}));
exprLegend("exE",1739.4,1597.3,[1740.5,1751,1603,1656.7],[1609,1619.7,1630.3,1641.3,1652],1754.5,7,7.5,1477.7,1745,1752,[1489.3,1499.3,1510,1520.3,1531,1540.7,1550.7,1561],clusterNames,clusterColors,.9);
[["A",11.5,10],["B",15,440],["C",15,952.7],["D",895,948],["E",7,1338]].forEach(d=>txt(svg,d[1],d[2],d[0],21,{anchor:"middle",fill:"#111"}));
</script></body></html>
